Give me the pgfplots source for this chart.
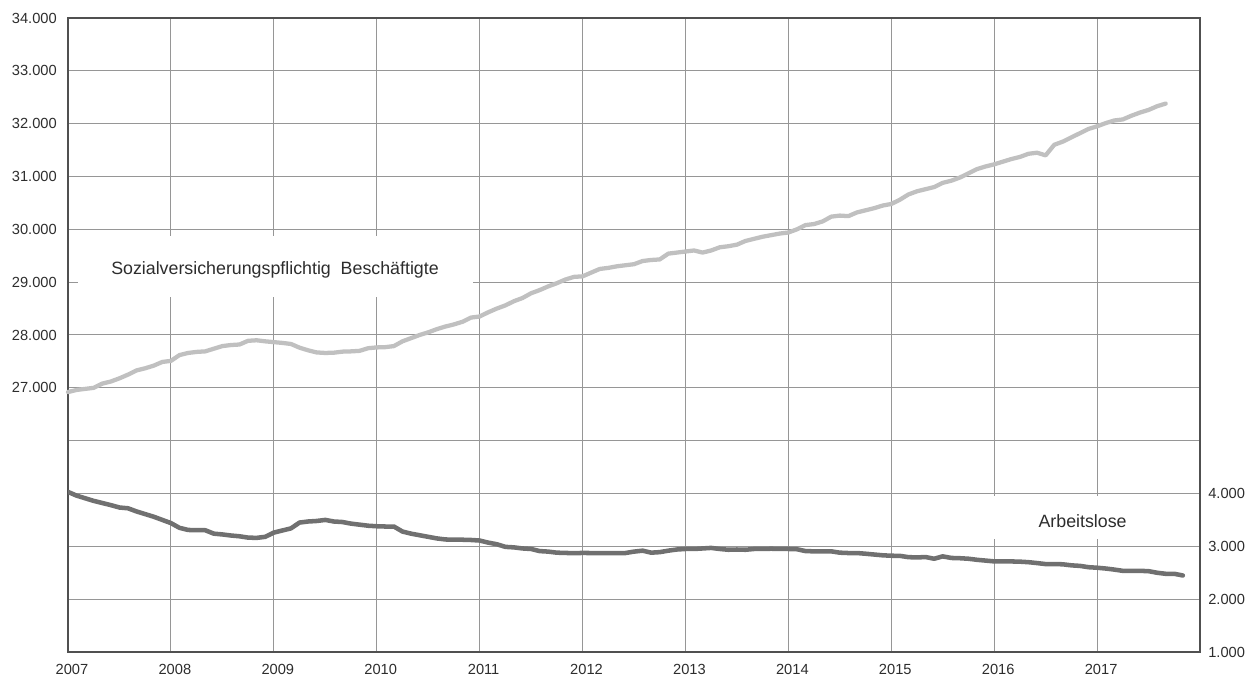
\documentclass[border=0pt]{standalone}
\usepackage{fontspec}
\setmainfont{Liberation Sans}
\usepackage{pgfplots}
\pgfplotsset{compat=1.18}
\usepackage{pgfplotstable}

\definecolor{besch}{RGB}{192,192,192}
\definecolor{arbl}{RGB}{112,112,112}
\definecolor{gridc}{RGB}{150,150,150}
\definecolor{framec}{RGB}{80,80,80}
\definecolor{txt}{RGB}{45,45,45}

% months since January 2007, values in thousands
\pgfplotstableread{
m v
0 26920
1 26960
2 26980
3 27000
4 27080
5 27120
6 27180
7 27250
8 27330
9 27370
10 27420
11 27490
12 27510
13 27620
14 27660
15 27680
16 27690
17 27740
18 27790
19 27810
20 27820
21 27890
22 27900
23 27880
24 27865
25 27850
26 27830
27 27760
28 27710
29 27670
30 27660
31 27665
32 27685
33 27690
34 27700
35 27750
36 27765
37 27770
38 27790
39 27880
40 27940
41 28000
42 28050
43 28110
44 28160
45 28200
46 28250
47 28330
48 28350
49 28430
50 28500
51 28560
52 28640
53 28700
54 28790
55 28850
56 28920
57 28980
58 29050
59 29100
60 29110
61 29180
62 29250
63 29270
64 29300
65 29320
66 29340
67 29400
68 29420
69 29430
70 29540
71 29560
72 29580
73 29600
74 29560
75 29600
76 29660
77 29680
78 29710
79 29780
80 29820
81 29860
82 29890
83 29920
84 29940
85 30000
86 30080
87 30100
88 30150
89 30240
90 30260
91 30250
92 30320
93 30360
94 30400
95 30450
96 30480
97 30560
98 30660
99 30720
100 30760
101 30800
102 30880
103 30920
104 30980
105 31060
106 31140
107 31190
108 31230
109 31280
110 31330
111 31370
112 31430
113 31450
114 31400
115 31600
116 31660
117 31740
118 31820
119 31900
120 31950
121 32010
122 32060
123 32080
124 32150
125 32210
126 32260
127 32330
128 32380
}\besch

\pgfplotstableread{
m v
0 4030
1 3960
2 3910
3 3860
4 3820
5 3780
6 3735
7 3720
8 3660
9 3610
10 3560
11 3500
12 3440
13 3350
14 3310
15 3305
16 3305
17 3240
18 3225
19 3205
20 3190
21 3165
22 3160
23 3180
24 3260
25 3300
26 3340
27 3450
28 3470
29 3480
30 3500
31 3470
32 3460
33 3430
34 3410
35 3390
36 3380
37 3375
38 3375
39 3280
40 3240
41 3210
42 3180
43 3150
44 3130
45 3125
46 3125
47 3120
48 3110
49 3070
50 3040
51 2990
52 2980
53 2960
54 2950
55 2910
56 2900
57 2880
58 2875
59 2870
60 2875
61 2873
62 2873
63 2873
64 2873
65 2873
66 2900
67 2918
68 2880
69 2890
70 2918
71 2940
72 2950
73 2950
74 2960
75 2970
76 2950
77 2935
78 2940
79 2935
80 2950
81 2950
82 2955
83 2950
84 2950
85 2945
86 2910
87 2905
88 2905
89 2905
90 2880
91 2873
92 2873
93 2860
94 2845
95 2830
96 2822
97 2820
98 2795
99 2790
100 2797
101 2765
102 2810
103 2780
104 2775
105 2765
106 2745
107 2730
108 2715
109 2714
110 2714
111 2710
112 2700
113 2683
114 2664
115 2664
116 2660
117 2640
118 2630
119 2605
120 2595
121 2580
122 2560
123 2536
124 2536
125 2536
126 2530
127 2500
128 2480
129 2480
130 2448
}\arbl

\begin{document}
\begin{tikzpicture}
\useasboundingbox (0,0) rectangle (939.75pt,508.5pt);
\begin{axis}[
  at={(51pt,19.5pt)}, anchor=south west,
  scale only axis, width=849pt, height=475.5pt,
  xmin=0, xmax=132, ymin=22000, ymax=34000,
  xtick={0,12,24,36,48,60,72,84,96,108,120},
  xticklabels={2007,2008,2009,2010,2011,2012,2013,2014,2015,2016,2017},
  ytick={22000,23000,24000,25000,26000,27000,28000,29000,30000,31000,32000,33000,34000},
  yticklabels={,,,,,27.000,28.000,29.000,30.000,31.000,32.000,33.000,34.000},
  grid=major,
  major grid style={draw=gridc, line width=0.75pt},
  major tick length=0pt,
  axis line style={draw=framec, line width=1.2pt},
  tick label style={font=\fontsize{11}{13}\selectfont, text=txt},
  xticklabel style={anchor=north, inner sep=0pt, yshift=-9pt, xshift=3pt},
  yticklabel style={anchor=east, inner sep=0pt, xshift=-8.25pt},
  clip=false,
]
\addplot[besch, line width=3.2pt, line join=round, line cap=round] table[x=m,y=v] {\besch};
\node[fill=white, inner sep=0pt, minimum width=296.25pt, minimum height=45.75pt] at (axis cs:24.2,29296) {};
\node[anchor=base, inner sep=0pt, text=txt, font=\fontsize{13.35}{15}\selectfont] at (axis cs:24.14,29148) {Sozialversicherungspflichtig\ \ Beschäftigte};
\node[fill=white, inner sep=0pt, minimum width=141.75pt, minimum height=32.6pt] at (axis cs:118.31,24550) {};
\node[anchor=base, inner sep=0pt, text=txt, font=\fontsize{13.35}{15}\selectfont] at (axis cs:118.31,24359) {Arbeitslose};
\end{axis}
\begin{axis}[
  at={(51pt,19.5pt)}, anchor=south west,
  scale only axis, width=849pt, height=475.5pt,
  xmin=0, xmax=132, ymin=1000, ymax=13000,
  hide x axis, axis y line*=right,
  y axis line style={draw=none},
  ytick={1000,2000,3000,4000},
  yticklabels={1.000,2.000,3.000,4.000},
  major tick length=0pt,
  tick label style={font=\fontsize{11}{13}\selectfont, text=txt},
  yticklabel style={anchor=west, inner sep=0pt, xshift=6pt},
]
\addplot[arbl, line width=3.4pt, line join=round, line cap=round] table[x=m,y=v] {\arbl};
\end{axis}
\end{tikzpicture}
\end{document}
